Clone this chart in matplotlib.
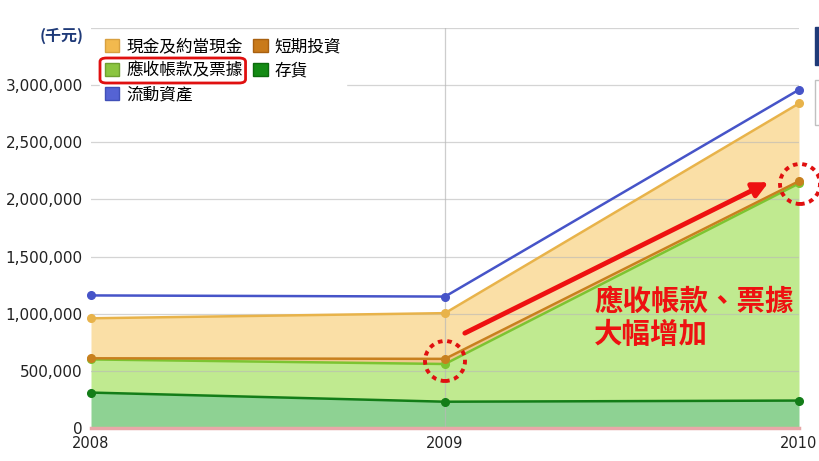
import numpy as np
import matplotlib
matplotlib.use('Agg')
import matplotlib.pyplot as plt
import matplotlib.patches as mpatches
from matplotlib.ticker import FuncFormatter

plt.rcParams['font.family'] = ['Noto Sans CJK TC', 'DejaVu Sans']

# ── data (千元) ────────────────────────────────────────────────────────────────
years = [2008, 2009, 2010]
inventory = [310000, 230000, 240000]        # 存貨
receivables = [290000, 330000, 1900000]     # 應收帳款及票據
short_inv = [10000, 45000, 20000]           # 短期投資
cash = [350000, 400000, 680000]             # 現金及約當現金
total_assets = [1160000, 1150000, 2960000]  # 流動資產
yticks = [0, 500000, 1000000, 1500000, 2000000, 2500000, 3000000]

lab_cash = '現金及約當現金'
lab_sti = '短期投資'
lab_rec = '應收帳款及票據'
lab_inv = '存貨'
lab_tot = '流動資產'

# cumulative stacks
x = np.array(years)
s1 = np.array(inventory)
s2 = s1 + np.array(receivables)
s3 = s2 + np.array(short_inv)
s4 = s3 + np.array(cash)

fig = plt.figure(figsize=(8.2, 4.61), dpi=100)
ax = fig.add_axes([91/820, 1 - 428/461, 708/820, 400/461])

ax.set_xlim(2008, 2010)
ax.set_ylim(0, 3500000)

# fills
ax.fill_between(x, 0, s1, color='#8ed293', lw=0, zorder=1)
ax.fill_between(x, s1, s2, color='#c0ea90', lw=0, zorder=1)
ax.fill_between(x, s2, s3, color='#f0c890', lw=0, zorder=1)
ax.fill_between(x, s3, s4, color='#fadfa6', lw=0, zorder=1)

# gridlines (drawn over fills, faint)
for yv in yticks[1:] + [3500000]:
    ax.axhline(yv, color='#b8b8b8', lw=0.9, alpha=0.6, zorder=2)
ax.axvline(2009, color='#b8b8b8', lw=0.9, alpha=0.7, zorder=2)
ax.axhline(0, color='#e8a8a8', lw=2.5, zorder=3, clip_on=False)

# lines + markers
mk = dict(marker='o', ms=5.5, lw=1.8, zorder=5, clip_on=False)
ax.plot(x, s1, color='#137d18', **mk)
ax.plot(x, s2, color='#7cc431', **mk)
ax.plot(x, s3, color='#c8801e', **mk)
ax.plot(x, s4, color='#e8b34a', **mk)
ax.plot(x, total_assets, color='#4654c8', **mk)

for sp in ax.spines.values():
    sp.set_visible(False)

ax.set_yticks(yticks)
ax.yaxis.set_major_formatter(FuncFormatter(lambda v, p: f'{int(v):,}'))
ax.set_xticks(years)
ax.set_xticklabels([str(y) for y in years])
ax.tick_params(axis='y', length=0, pad=6, labelsize=11, labelcolor='#222222',
               labelfontfamily='DejaVu Sans')
ax.tick_params(axis='x', length=0, pad=6, labelsize=10.5, labelcolor='#222222',
               labelfontfamily='DejaVu Sans')

fig.text(40/820, 1 - 36/461, '(千元)', color='#1f3a78', fontsize=11.5,
         fontweight='bold', va='center', ha='left')

# legend
handles = [
    mpatches.Patch(facecolor='#f2b94e', edgecolor='#d8a040', label=lab_cash),
    mpatches.Patch(facecolor='#8bc53f', edgecolor='#6fa030', label=lab_rec),
    mpatches.Patch(facecolor='#5563d4', edgecolor='#4050b8', label=lab_tot),
    mpatches.Patch(facecolor='#c97a1a', edgecolor='#a86010', label=lab_sti),
    mpatches.Patch(facecolor='#138a13', edgecolor='#0c6a0c', label=lab_inv),
]
leg = fig.legend(handles=handles, ncol=2, loc='upper left',
                 bbox_to_anchor=(100/820, 1 - 33/461), frameon=True, fontsize=12,
                 handlelength=0.85, handleheight=0.85, handletextpad=0.42,
                 columnspacing=0.65, labelspacing=0.42, borderpad=0.3,
                 borderaxespad=0.0)
leg.get_frame().set_facecolor('white')
leg.get_frame().set_edgecolor('white')
leg.get_frame().set_alpha(1.0)
leg.get_frame().set_boxstyle('square,pad=0')
leg.set_zorder(8)

# red box around receivables legend entry (placed from rendered extents)
fig.canvas.draw()
r = fig.canvas.get_renderer()
tb = leg.get_texts()[1].get_window_extent(r)
hb = leg.legend_handles[1].get_window_extent(r)
x0, x1 = hb.x0 - 5, tb.x1 + 3
yc = (tb.y0 + tb.y1) / 2
h = 25
fig.patches.append(mpatches.FancyBboxPatch(
    (x0/820, (yc - h/2)/461), (x1 - x0)/820, h/461,
    boxstyle='round,pad=0,rounding_size=0.008', transform=fig.transFigure,
    facecolor='none', edgecolor='#e01010', lw=2.0, zorder=10))

# annotation arrow
ax.annotate('', xy=(2009.914, 2150000), xytext=(2009.056, 830000),
            arrowprops=dict(arrowstyle='-|>,head_length=0.9,head_width=0.45',
                            color='#ee1111', lw=3.5, shrinkA=0, shrinkB=0),
            zorder=9)

# dotted circles
for cx, cy in [(445, 361), (800, 184)]:
    fig.patches.append(mpatches.Ellipse(
        (cx/820, 1 - cy/461), 40/820, 40/461, transform=fig.transFigure,
        facecolor='none', edgecolor='#e01010', lw=2.8, ls=(0, (1.2, 1.2)), zorder=10))

fig.text(594/820, 1 - 302/461, '應收帳款、票據', color='#ee1111', fontsize=20.5,
         fontweight='bold', va='center', ha='left')
fig.text(594/820, 1 - 335/461, '大幅增加', color='#ee1111', fontsize=20.5,
         fontweight='bold', va='center', ha='left')

# cropped UI pieces at right edge
fig.patches.append(mpatches.Rectangle((815/820, 1 - 65/461), 6/820, 38/461,
                                      transform=fig.transFigure, color='#1f3a78'))
fig.patches.append(mpatches.Rectangle((815/820, 1 - 125/461), 6/820, 45/461,
                                      transform=fig.transFigure, facecolor='white',
                                      edgecolor='#c0c0c0', lw=1))

fig.savefig('out.png', dpi=100)
